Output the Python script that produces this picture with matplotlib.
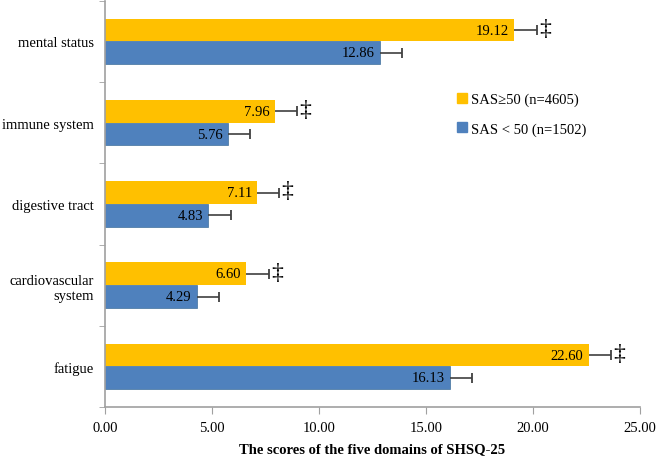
import matplotlib.pyplot as plt
import numpy as np
from matplotlib.lines import Line2D

plt.rcParams['font.family'] = ['Liberation Serif', 'DejaVu Serif']

# categories top to bottom
domains = ['mental status', 'immune system', 'digestive tract',
           'cardiovascular\nsystem', 'fatigue']
sas_high = [19.12, 7.96, 7.11, 6.60, 22.60]   # SAS>=50 (n=4605)
sas_low = [12.86, 5.76, 4.83, 4.29, 16.13]    # SAS<50 (n=1502)
err_high = [1.07, 1.00, 1.02, 1.06, 1.03]
err_low = [1.02, 1.02, 1.06, 1.04, 1.00]
xticks = [0, 5, 10, 15, 20, 25]

yellow = '#FFC000'
blue = '#4F81BD'
ecol = '#404040'

fig = plt.figure(figsize=(6.57, 4.60), dpi=100)
ax = fig.add_axes([0.160, 0.113, 0.814, 0.883])

n = len(domains)
y = np.arange(n)[::-1].astype(float)  # top category highest
h = 0.28

ax.barh(y + h / 2, sas_high, height=h, color=yellow, zorder=2)
ax.barh(y - h / 2, sas_low, height=h, color=blue, edgecolor='#41719C', linewidth=0.5, zorder=2)

# one-sided error bars with a cap only at the outer end
for vals, errs, yy in [(sas_high, err_high, y + h / 2), (sas_low, err_low, y - h / 2)]:
    vals = np.array(vals)
    errs = np.array(errs)
    ax.hlines(yy, vals, vals + errs, color=ecol, linewidth=1.2, zorder=3)
    ax.plot(vals + errs, yy, linestyle='', marker='|', markersize=7, mew=1.3, color=ecol, zorder=3)

for yi, v, e in zip(y, sas_high, err_high):
    ax.text(v - 0.25, yi + h / 2, f'{v:.2f}', ha='right', va='center', fontsize=10.5)
    ax.text(v + e + 0.12, yi + h / 2 + 0.02, '\u2021', ha='left', va='center', fontsize=17)
for yi, v in zip(y, sas_low):
    ax.text(v - 0.25, yi - h / 2, f'{v:.2f}', ha='right', va='center', fontsize=10.5)

ax.set_xlim(0, 25)
ax.set_ylim(-0.5, n - 0.5)
ax.set_xticks(xticks)
ax.set_xticklabels([f'{t:.2f}' for t in xticks], fontsize=10.5)
ax.set_yticks(y)
ax.set_yticklabels(domains, fontsize=10.5)
ax.set_yticks(np.arange(n + 1) - 0.5, minor=True)
ax.tick_params(axis='y', which='major', length=0, pad=8)
ax.tick_params(axis='y', which='minor', length=4, color='#A0A0A0')
ax.tick_params(axis='x', length=5, color='#A0A0A0', pad=5)

for s in ['top', 'right']:
    ax.spines[s].set_visible(False)
for s in ['left', 'bottom']:
    ax.spines[s].set_color('#A0A0A0')
    ax.spines[s].set_linewidth(1.2)

ax.set_xlabel('The scores of the five domains of SHSQ-25', fontsize=10.5,
              fontweight='bold', labelpad=6)

handles = [Line2D([], [], marker='s', linestyle='', color=yellow, markersize=7),
           Line2D([], [], marker='s', linestyle='', color=blue, markersize=7)]
fig.legend(handles, ['SAS\u226550 (n=4605)', 'SAS < 50 (n=1502)'],
           loc='upper left', bbox_to_anchor=(0.672, 0.825), frameon=False,
           fontsize=10.5, labelspacing=1.1, handletextpad=0.1, handlelength=1.0)

fig.savefig('out.png', dpi=100)
